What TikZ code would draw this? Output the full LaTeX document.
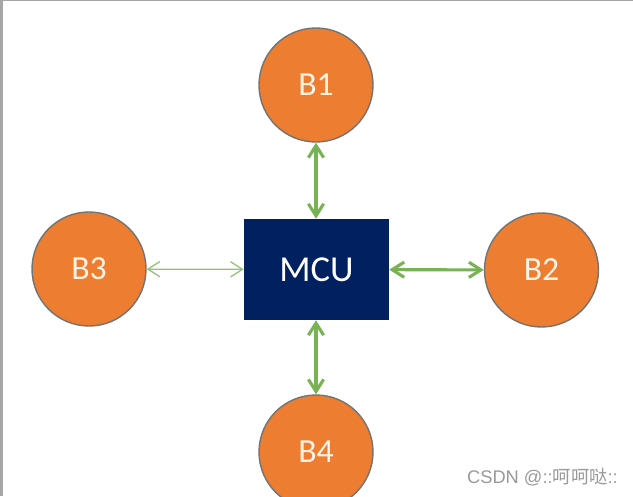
\documentclass[tikz,border=0pt]{standalone}
\usepackage{fontspec}
\setmainfont{Carlito}
\newfontfamily\cjkfont{Noto Sans CJK SC}
\newfontfamily\markfont{Liberation Sans}
\usetikzlibrary{arrows.meta}

\definecolor{busorange}{HTML}{ED7D31}
\definecolor{mcublue}{HTML}{002060}
\definecolor{linkgreen}{HTML}{77B255}
\definecolor{labelcream}{HTML}{FFF3E6}

\begin{document}
\begin{tikzpicture}[
  x=0.025cm, y=-0.025cm,
  bus/.style={circle, draw=gray!90!black, line width=1pt, fill=busorange,
    minimum size=114*0.025cm, inner sep=0pt, text=labelcream,
    font=\fontsize{24}{28}\selectfont},
  mcu/.style={rectangle, fill=mcublue, minimum width=145*0.025cm,
    minimum height=101*0.025cm, inner sep=0pt, text=white,
    font=\fontsize{26}{30}\selectfont},
  link/.style={draw=linkgreen, line width=2.2pt,
    {Straight Barb[length=3mm, width=3.8mm]}-{Straight Barb[length=3mm, width=3.8mm]}},
  thinlink/.style={draw=linkgreen!80, line width=0.9pt,
    {Straight Barb[length=3mm, width=3.8mm]}-{Straight Barb[length=3mm, width=3.8mm]}}
]
\fill[white] (0,0) rectangle (633,496);
\useasboundingbox (0,0) rectangle (633,496);
% frame edges
\draw[gray!70, line width=1.2pt] (0,0.5) -- (633,0.5);
\draw[gray!70, line width=2.2pt] (1.5,0) -- (1.5,496);

\node[mcu] (mcu) at (316.5,269.5) {MCU};
\node[bus] (b1) at (316,85) {B1};
\node[bus] (b2) at (541.5,270) {B2};
\node[bus] (b3) at (89,269) {B3};
\node[bus] (b4) at (316,452) {B4};

\draw[link] (b1) -- (b1 |- mcu.north);
\draw[link] (mcu) -- (b2);
\draw[thinlink] (b3) -- (mcu);
\draw[link] (mcu.south -| b4) -- (b4);

% watermark
\node[anchor=base east, text=gray!80, inner sep=0pt,
  font=\fontsize{13}{15}\selectfont] (mark) at (618,483)
  {\markfont CSDN @::\cjkfont 呵呵哒\markfont ::};
\end{tikzpicture}
\end{document}
